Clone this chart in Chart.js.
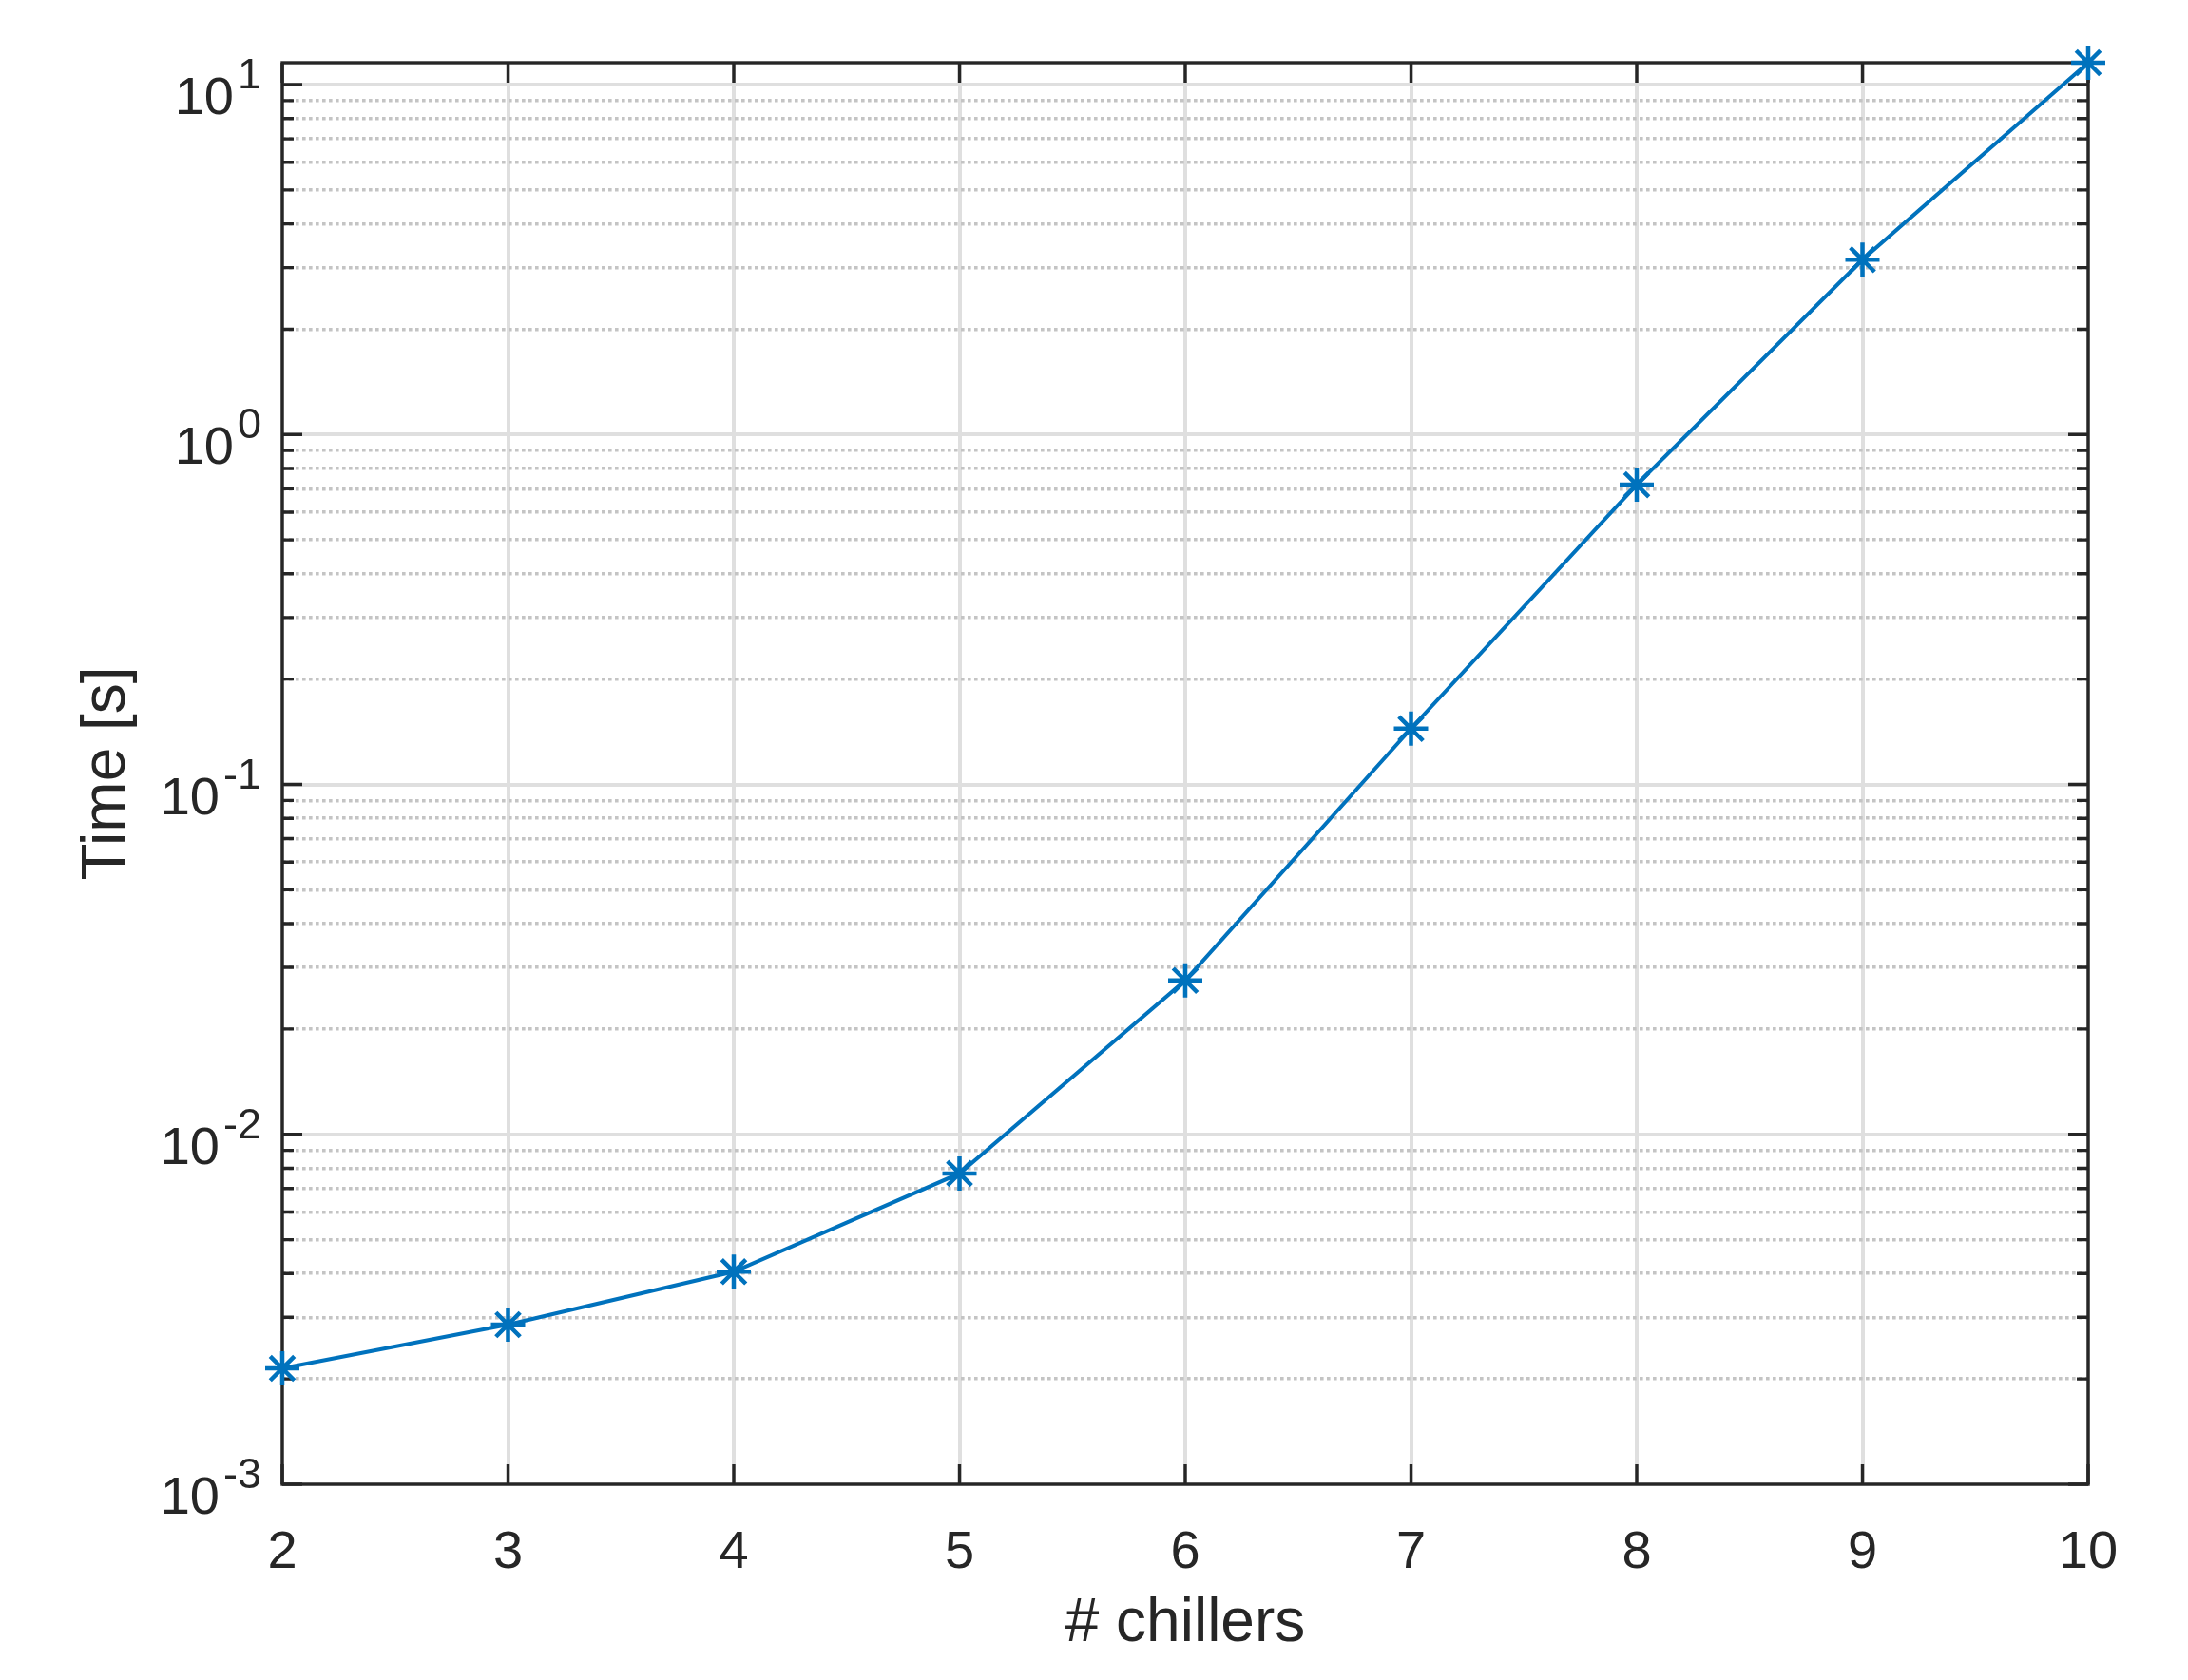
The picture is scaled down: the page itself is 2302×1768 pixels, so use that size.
<!DOCTYPE html>
<html><head><meta charset="utf-8">
<script src="https://cdn.jsdelivr.net/npm/chart.js@4.4.1/dist/chart.umd.min.js"></script>
<style>html,body{margin:0;padding:0;background:#fff;}#wrap{width:2302px;height:1768px;}</style>
</head><body><div id="wrap"><canvas id="c" width="2302" height="1768"></canvas></div>
<script>
// ---- data ----
const chillers = [2, 3, 4, 5, 6, 7, 8, 9, 10];
const timeSeconds = [0.002144, 0.002859, 0.004051, 0.00773, 0.02754, 0.1444, 0.7189, 3.16, 11.55];
const xTickValues = [2, 3, 4, 5, 6, 7, 8, 9, 10];
const yDecadeExponents = [-3, -2, -1, 0, 1];
const yMinorMultipliers = [2, 3, 4, 5, 6, 7, 8, 9];
const yAxisMin = 1e-3;
const yAxisMax = 11.55;
const xLabel = '# chillers';
const yLabel = 'Time [s]';

const TEXT = '#262626';
const FONT = 'Liberation Sans, Arial, Helvetica, sans-serif';

const yTickValues = [];
yDecadeExponents.forEach(e => {
  const base = Math.pow(10, e);
  if (base >= yAxisMin && base <= yAxisMax) yTickValues.push(base);
  yMinorMultipliers.forEach(m => { const v = m * base; if (v > yAxisMin && v <= yAxisMax) yTickValues.push(v); });
});
const isDecade = v => Math.abs(Math.log10(v) - Math.round(Math.log10(v))) < 1e-9;

const axesPlugin = {
  id: 'matlabAxes',
  beforeDatasetsDraw(chart) {
    const { ctx, chartArea: { left, right, top, bottom }, scales: { x, y } } = chart;
    ctx.save();
    ctx.strokeStyle = TEXT; ctx.lineWidth = 3.4; ctx.lineCap = 'butt';
    ctx.beginPath();
    xTickValues.forEach(v => {
      const px = x.getPixelForValue(v);
      ctx.moveTo(px, bottom); ctx.lineTo(px, bottom - 21);
      ctx.moveTo(px, top); ctx.lineTo(px, top + 21);
    });
    y.ticks.forEach(t => {
      const py = y.getPixelForValue(t.value);
      const len = t.major ? 21 : 12;
      ctx.moveTo(left, py); ctx.lineTo(left + len, py);
      ctx.moveTo(right, py); ctx.lineTo(right - len, py);
    });
    ctx.stroke();
    ctx.strokeRect(left, top, right - left, bottom - top);
    // y tick labels 10^n
    ctx.fillStyle = TEXT;
    ctx.textAlign = 'right'; ctx.textBaseline = 'alphabetic';
    yDecadeExponents.forEach(e => {
      const v = Math.pow(10, e);
      if (v < yAxisMin || v > yAxisMax) return;
      const py = y.getPixelForValue(v);
      const expText = String(e);
      ctx.font = '45px ' + FONT;
      const ew = ctx.measureText(expText).width;
      ctx.fillText(expText, 275, py + 4);
      ctx.font = '56px ' + FONT;
      ctx.fillText('10', 275 - ew - 4, py + 31);
    });
    ctx.restore();
  }
};

new Chart(document.getElementById('c'), {
  type: 'line',
  data: {
    datasets: [{
      data: chillers.map((c, i) => ({ x: c, y: timeSeconds[i] })),
      borderColor: '#0072BD',
      backgroundColor: '#0072BD',
      borderWidth: 4,
      pointStyle: 'star',
      pointRadius: 18,
      pointHoverRadius: 18,
      pointBorderWidth: 4.5,
      pointBorderColor: '#0072BD',
      pointBackgroundColor: '#0072BD',
      tension: 0,
      fill: false,
      clip: false
    }]
  },
  options: {
    responsive: false,
    devicePixelRatio: 1,
    animation: false,
    layout: { padding: { left: 0, right: 105, top: 66, bottom: 0 } },
    plugins: { legend: { display: false }, tooltip: { enabled: false } },
    scales: {
      x: {
        type: 'linear',
        min: 2, max: 10,
        afterBuildTicks: s => { s.ticks = xTickValues.map(v => ({ value: v })); },
        afterFit: s => { s.height = 206; },
        ticks: { color: TEXT, font: { family: FONT, size: 56 }, padding: 39, maxRotation: 0, autoSkip: false },
        grid: { color: '#dfdfdf', lineWidth: 4, drawTicks: false },
        border: { display: false },
        title: { display: true, text: xLabel, color: TEXT, font: { family: FONT, size: 64 }, padding: { top: 0, bottom: 20 } }
      },
      y: {
        type: 'logarithmic',
        min: yAxisMin, max: yAxisMax,
        afterBuildTicks: s => { s.ticks = yTickValues.map(v => ({ value: v, major: isDecade(v) })); },
        afterFit: s => { s.width = 297; },
        ticks: { display: false },
        grid: {
          color: c => (c.tick && c.tick.major) ? '#dfdfdf' : '#c4c4c4',
          lineWidth: c => (c.tick && c.tick.major) ? 4 : 3.6,
          drawTicks: false
        },
        border: { display: false, dash: c => (c.tick && c.tick.major) ? [] : [3.6, 3.4] },
        title: { display: true, text: yLabel, color: TEXT, font: { family: FONT, size: 64 }, padding: { top: 75, bottom: 0 } }
      }
    }
  },
  plugins: [axesPlugin]
});
</script></body></html>
